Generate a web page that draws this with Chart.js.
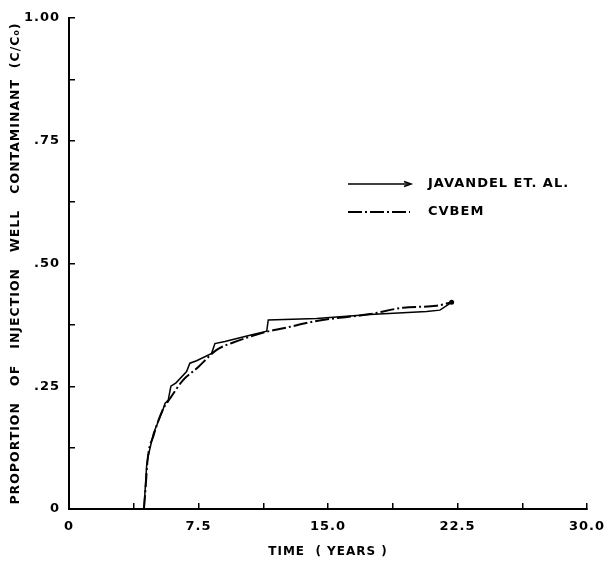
<!DOCTYPE html>
<html>
<head>
<meta charset="utf-8">
<script src="https://cdn.jsdelivr.net/npm/chart.js@4.4.1/dist/chart.umd.min.js"></script>
<style>
  body { margin: 0; background: #fff; }
  canvas { display: block; }
</style>
</head>
<body>
<canvas id="chart" width="606" height="564"></canvas>
<script>
// time in years, C/Co
const javandelT = [4.34, 4.5, 4.6, 4.9, 5.4, 5.56, 5.75, 5.9, 6.2, 6.81, 7.0, 7.39, 8.26, 8.45, 9.03, 10.48, 11.45, 11.54, 14.34, 17.43, 20.71, 21.48, 22.16];
const javandelC = [0, 0.09, 0.11, 0.155, 0.198, 0.215, 0.222, 0.25, 0.257, 0.28, 0.297, 0.302, 0.317, 0.337, 0.341, 0.354, 0.362, 0.385, 0.388, 0.396, 0.402, 0.405, 0.421];

const cvbemT = [4.34, 4.45, 4.55, 4.9, 5.4, 5.85, 6.62, 7.39, 8.55, 9.51, 11.45, 12.41, 14.34, 17.43, 19.36, 21.29, 22.16];
const cvbemC = [0, 0.05, 0.1, 0.15, 0.2, 0.225, 0.263, 0.286, 0.324, 0.339, 0.361, 0.368, 0.383, 0.397, 0.41, 0.414, 0.421];

const xTickLabels = ["0", "7.5", "15.0", "22.5", "30.0"];
const yTickLabels = ["0", ".25", ".50", ".75", "1.00"];

const FONT = "'DejaVu Sans', sans-serif";

function pts(xs, ys) {
  return xs.map((x, i) => ({ x: x, y: ys[i] }));
}

// legend drawn inside the plot, like the original
const legendPlugin = {
  id: "figLegend",
  afterDraw(chart) {
    const ctx = chart.ctx;
    const rows = [
      { ds: chart.data.datasets[0], y: 184, arrow: true },
      { ds: chart.data.datasets[1], y: 212, arrow: false }
    ];
    ctx.save();
    ctx.letterSpacing = "1px";
    rows.forEach(r => {
      ctx.strokeStyle = "#000";
      ctx.lineWidth = r.ds.borderWidth;
      ctx.setLineDash(r.ds.borderDash || []);
      ctx.beginPath();
      ctx.moveTo(348, r.y);
      ctx.lineTo(410, r.y);
      ctx.stroke();
      ctx.setLineDash([]);
      if (r.arrow) {
        ctx.beginPath();
        ctx.moveTo(404, r.y - 2.5);
        ctx.lineTo(411, r.y);
        ctx.lineTo(404, r.y + 2.5);
        ctx.stroke();
      }
      ctx.fillStyle = "#000";
      ctx.font = "bold 13px " + FONT;
      ctx.textBaseline = "middle";
      ctx.textAlign = "left";
      ctx.fillText(r.ds.label, 428, r.y);
    });
    ctx.restore();
  }
};

const spacingPlugin = {
  id: "spacing",
  beforeDraw(chart) { chart.ctx.letterSpacing = "1px"; },
  afterDraw(chart) { chart.ctx.letterSpacing = "0px"; }
};

new Chart(document.getElementById("chart"), {
  type: "line",
  data: {
    datasets: [
      {
        label: "JAVANDEL ET. AL.",
        data: pts(javandelT, javandelC),
        borderColor: "#000",
        borderWidth: 1.5,
        tension: 0,
        pointRadius: c => (c.dataIndex === javandelT.length - 1 ? 2.5 : 0),
        pointBackgroundColor: "#000",
        pointBorderWidth: 0
      },
      {
        label: "CVBEM",
        data: pts(cvbemT, cvbemC),
        borderColor: "#000",
        borderWidth: 2,
        borderDash: [14, 3, 2, 3],
        tension: 0.35,
        cubicInterpolationMode: "monotone",
        pointRadius: 0
      }
    ]
  },
  options: {
    responsive: false,
    animation: false,
    devicePixelRatio: 1,
    layout: { padding: { top: 18, right: 19, left: 0, bottom: 0 } },
    plugins: {
      legend: { display: false },
      tooltip: { enabled: false }
    },
    scales: {
      x: {
        type: "linear",
        min: 0,
        max: 30,
        afterFit: s => { s.height = 55; s.paddingLeft = 0; s.paddingRight = 0; },
        border: { display: true, color: "#000", width: 2 },
        grid: { drawOnChartArea: false, drawTicks: true, tickLength: -6, color: "#000", lineWidth: 1.5 },
        ticks: {
          stepSize: 3.75,
          autoSkip: false,
          maxRotation: 0,
          padding: 16,
          color: "#000",
          font: { family: FONT, size: 13, weight: "bold" },
          callback: (v, i) => (i % 2 === 0 ? xTickLabels[i / 2] : "")
        },
        title: {
          display: true,
          text: "TIME  ( YEARS )",
          color: "#000",
          font: { family: FONT, size: 12, weight: "bold" },
          padding: { top: 0, bottom: 5 }
        }
      },
      y: {
        min: 0,
        max: 1,
        afterFit: s => { s.width = 69; s.paddingTop = 0; s.paddingBottom = 0; },
        border: { display: true, color: "#000", width: 2 },
        grid: { drawOnChartArea: false, drawTicks: true, tickLength: -6, color: "#000", lineWidth: 1.5 },
        ticks: {
          stepSize: 0.125,
          autoSkip: false,
          padding: 15,
          color: "#000",
          font: { family: FONT, size: 13, weight: "bold" },
          callback: (v, i) => (i % 2 === 0 ? yTickLabels[i / 2] : "")
        },
        title: {
          display: true,
          text: "PROPORTION   OF   INJECTION   WELL   CONTAMINANT  (C/C\u2080)",
          color: "#000",
          font: { family: FONT, size: 12.5, weight: "bold" },
          padding: { top: 8, bottom: 0 }
        }
      }
    }
  },
  plugins: [spacingPlugin, legendPlugin]
});
</script>
</body>
</html>
